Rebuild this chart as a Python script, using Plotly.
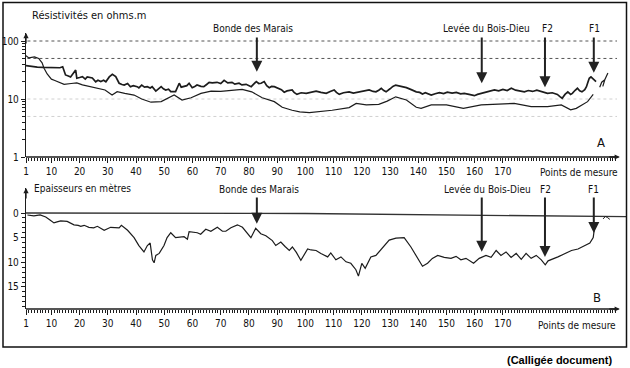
import numpy as np
import plotly.graph_objects as go

# ---------------- data ----------------
# Panel A : apparent resistivity (ohm.m) along the profile
res_low_pts = [1, 2, 4, 5.5, 6.7, 7.4, 8.5, 10, 11, 13, 14.5, 17, 19, 21, 24, 27, 29, 31.5, 33.3, 36,
               39.3, 42, 45.3, 48.9, 51, 53.5, 56.3, 59.5, 63, 66.6, 70, 74, 77.6, 81, 84.7, 89, 91.8,
               95.3, 98, 101.4, 104.9, 109.5, 115.5, 118, 121.6, 126, 129, 132, 135.8, 139.3, 141,
               144.6, 150, 156, 162.3, 168, 174, 180, 185.8, 190.7, 194, 196, 198, 200, 202]
res_low_vals = [56, 51, 53, 50, 42, 34, 27, 22, 21, 19, 17.9, 18.5, 19, 17.5, 16.3, 15, 14.3, 11.7, 13.4, 12.5,
                11.7, 10, 8.8, 9, 10.2, 11.7, 9.6, 10.5, 12.5, 13.7, 13.5, 14.3, 14.7, 13.3, 10.5, 9, 7.2,
                6.4, 6.0, 5.8, 6, 6.4, 7.1, 8.4, 7.9, 8.1, 9.2, 10.9, 9.6, 7.2, 6.9,
                7.9, 7.9, 6.9, 7.9, 8.1, 8.4, 7.4, 7.4, 7.9, 6.5, 6.9, 7.8, 9, 12]

res_high_pts = [1, 3, 5, 7, 9, 11, 13, 14, 15, 16, 16.8, 18.6, 19, 20, 21, 22, 22.7, 24.5, 25.7, 26.5,
                27.5, 28.5, 29.3, 30.5, 31.6, 32.8, 34, 35, 35.8, 37, 38, 39, 40.4, 41, 42, 43, 44, 45,
                45.7, 47, 48, 48.9, 49.7, 50.5, 51.5, 52.3, 54, 55.3, 56, 57, 58, 58.8, 59.9, 60.8, 61.6,
                63, 64, 65, 65.9, 67, 68.7, 70, 71.2, 72.5, 74, 75, 76.5, 77.5, 79, 80.8, 82.6, 83.5,
                84.3, 85.4, 86.3, 87.2, 88, 89, 90.7, 91.5, 92.5, 93.5, 95.3, 96, 97, 98.5, 100.3, 102,
                103.8, 105.5, 107.4, 108.8, 110.2, 111, 112, 113.5, 115.5, 117, 119, 120.5, 122.6, 124,
                125, 126, 126.9, 127.8, 128.6, 130, 131, 132, 133, 134, 135.8, 137.5, 139.3, 140.5,
                141.5, 142.5, 144.6, 146, 147.5, 149, 150.3, 152, 153.5, 155, 156.3, 158, 159.9, 161,
                162.3, 163.5, 165, 167, 168.5, 170, 171.5, 173, 174.5, 176, 177.6, 179, 180.5, 182,
                183.6, 185.8, 187.5, 189.3, 190.2, 191, 192, 193, 194, 194.6, 195.5, 196.4, 197.2, 198,
                199, 199.6, 200.2, 200.6, 201.2, 201.7, 203]
res_high_vals = [37.5, 36, 35.5, 35, 35, 34.5, 34.6, 36, 26, 25, 24, 31.5, 22.8, 23.5, 24.3, 22, 24, 23, 19.8, 21,
                 20, 21, 19.8, 24, 26.6, 24.3, 18.7, 17.8, 17.4, 18.5, 16.3, 17, 16.3, 15.5, 17.4, 16, 16.3, 15.5,
                 16.3, 13.7, 15, 16.3, 15, 14.3, 14.8, 13.4, 13.4, 18.7, 16, 16.3, 17, 18.7, 15.7, 16.5, 17.4,
                 16.5, 16.3, 17.8, 19.4, 19, 19.4, 18.5, 21, 19, 19.4, 18, 18.7, 17.5, 17.9, 16.3, 20, 18.5,
                 18.7, 20, 17, 15.7, 16.5, 16.3, 15.3, 14.5, 13.1, 13.8, 14.3, 13, 12, 12.8, 12.5, 13.2,
                 13.7, 13, 12.5, 13.5, 14.3, 13, 12, 12.8, 13.3, 12.6, 13.1, 13.8, 14.3, 13.5,
                 13.3, 14.2, 15.3, 14, 13.3, 15, 16.5, 17.4, 17, 16.3, 15.7, 14.5, 13.3, 13,
                 12.2, 12.8, 11.7, 12.3, 12.9, 12.4, 13.1, 12.6, 13, 12.3, 12.5, 12, 11.4, 12,
                 12.5, 13.2, 13.6, 14.3, 13.8, 14.6, 14, 15.3, 14.2, 13.8, 13.3, 14, 13.5, 14.2,
                 13.3, 12.5, 12.8, 12, 11, 10.3, 12, 13.3, 12, 12.5, 14, 15.3, 13.8, 13.3,
                 14.5, 16.3, 20, 22.8, 24, 22.8, 20]
res_tail_pts = [204.3, 205.0, 206.1, 205.4, 206.1, 207.2]
res_tail_vals = [16.0, 19.5, 21.5, 16.5, 21.5, 28.0]

# Panel B : thickness in metres
thick_pts = [1.5, 3.8, 6, 8, 9.5, 10.9, 12, 13.3, 15.6, 18, 19.5, 20.4, 21.6, 23.3, 25, 26.3, 28.7, 31, 34,
             34.8, 37, 39.3, 41, 42.8, 44, 45, 45.8, 46.4, 47, 48.2, 49.9, 51, 52.3, 54, 57, 58.2, 58.8,
             60.6, 61.7, 62.9, 64.7, 66.5, 68.8, 70.6, 71.8, 73.6, 75.9, 77.7, 79, 80.7, 82.4, 84.2, 86,
             88.3, 89.5, 91.3, 92.8, 94.3, 95.4, 96.8, 98.4, 100.8, 102, 103.8, 105.5, 107.9, 109, 110.8,
             112.6, 114.4, 116.1, 117.9, 118.8, 120, 121.2, 123.2, 125, 127.4, 129.7, 132.1, 135, 137.4,
             139, 140.4, 141.5, 143.3, 145, 146.9, 149.2, 151.6, 153.4, 155.1, 156.9, 159.6, 161.6, 164,
             165.8, 167.6, 169.3, 171.1, 172.9, 174.7, 176.5, 178.2, 180, 181.8, 183.6, 185, 186, 189.5,
             191.9, 194.3, 196.6, 199, 200.8, 202, 202.4]
thick_vals = [0.4, 0.6, 0.4, 0.8, 1.4, 2, 1.8, 1.6, 1.7, 2.4, 2.5, 2.7, 2.5, 2.9, 3, 2.7, 3.5, 2.9, 3,
              2.5, 3.5, 5, 6.6, 7.9, 6.6, 6.1, 9.5, 10.1, 8.6, 8.2, 6.6, 5, 4, 5, 4.8, 5.3, 3.8,
              4, 4, 4.3, 3.3, 3.7, 2.9, 3.7, 3.7, 3, 2.4, 2.9, 3.8, 5, 3.1, 4.2, 4.6,
              5.6, 6.6, 5.9, 6.8, 7.6, 6.9, 8, 9.6, 7.3, 7.5, 7.6, 8.2, 8.9, 8.1, 9.5,
              8.9, 9.9, 10.2, 11.5, 12.8, 10.2, 11.2, 8.9, 8.6, 6.9, 5.5, 5.1, 5, 6.9,
              8.4, 9.5, 10.8, 10.2, 9.2, 8.6, 9, 9.2, 8.8, 9.5, 9.2, 10.2, 9.2, 8.6,
              9, 7.6, 8.6, 7.9, 9, 8.2, 9.4, 8.2, 9.2, 8.6, 9.5, 10.5, 9.7, 8.9,
              8.2, 7.6, 7.3, 6.6, 6.1, 5, 3.3]
thick_tail_pts = [205.5, 206.3, 207.0, 207.9]
thick_tail_vals = [1.2, 0.7, 0.9, 1.3]
surface_pts = [1, 100, 214]
surface_vals = [0.0, 0.1, 0.75]

# reference levels (dotted lines) on panel A
grid_strong = [100, 50]
grid_faint = [10, 5]

# tick labels
x_tick_vals = [1, 10, 20, 30, 40, 50, 60, 70, 80, 90, 100, 110, 120, 130, 140, 150, 160, 170]
y_top_ticks = [1, 10, 100]
y_bot_ticks = [0, 5, 10, 15]

# landmarks
landmark_names = ["Bonde des Marais", "Levée du Bois-Dieu", "F2", "F1"]
landmark_pts = [82.8, 162.5, 184.9, 202.2]
landmark_top_tip = [29.6, 18.7, 15.9, 28.4]      # ohm.m where the arrow ends
landmark_bot_tip = [2.2, 7.85, 8.9, 4.05]       # metres where the arrow ends

# ---------------- geometry ----------------
W, H = 630, 368
FONT = "DejaVu Sans Condensed, Liberation Sans Narrow, DejaVu Sans, sans-serif"
INK = "#1c1c1c"

def fx(px):
    return px / W

def fy(py):
    return 1 - py / H

X_LEFT, X_RIGHT, X_ARROW = 26, 626, 617
PPU = 2.822
x_range = [1, 1 + (X_RIGHT - X_LEFT) / PPU]
x_end = 1 + (X_ARROW - X_LEFT) / PPU

TOP_BOT, TOP_TOP, DEC = 157, 33, 58.0
y_top_range = [0, (TOP_BOT - TOP_TOP) / DEC]

B_ZERO, B_AXIS, B_TOP, PPM = 213, 309, 188, 4.93
y_bot_range = [(B_AXIS - B_ZERO) / PPM, -(B_ZERO - B_TOP) / PPM]

fig = go.Figure()

# dotted reference levels
for lv in grid_strong:
    fig.add_trace(go.Scatter(x=[x_range[0] + 0.5, x_end], y=[lv, lv], mode="lines",
                             line=dict(color="#555555", width=1, dash="dot"),
                             xaxis="x", yaxis="y", hoverinfo="skip", showlegend=False))
for lv in grid_faint:
    fig.add_trace(go.Scatter(x=[x_range[0] + 0.5, x_end], y=[lv, lv], mode="lines",
                             line=dict(color="#d0d0d0", width=1, dash="dot"),
                             xaxis="x", yaxis="y", hoverinfo="skip", showlegend=False))

fig.add_trace(go.Scatter(x=res_low_pts, y=res_low_vals, mode="lines",
                         line=dict(color=INK, width=1.2), xaxis="x", yaxis="y", showlegend=False))
fig.add_trace(go.Scatter(x=res_high_pts, y=res_high_vals, mode="lines",
                         line=dict(color=INK, width=1.7), xaxis="x", yaxis="y", showlegend=False))
fig.add_trace(go.Scatter(x=res_tail_pts, y=res_tail_vals, mode="lines",
                         line=dict(color=INK, width=1.2), xaxis="x", yaxis="y", showlegend=False))

fig.add_trace(go.Scatter(x=surface_pts, y=surface_vals, mode="lines",
                         line=dict(color="#333333", width=1.3), xaxis="x2", yaxis="y2", showlegend=False))
fig.add_trace(go.Scatter(x=thick_pts, y=thick_vals, mode="lines",
                         line=dict(color=INK, width=1.2), xaxis="x2", yaxis="y2", showlegend=False))
fig.add_trace(go.Scatter(x=thick_tail_pts, y=thick_tail_vals, mode="lines",
                         line=dict(color=INK, width=1), xaxis="x2", yaxis="y2", showlegend=False))

tickfont = dict(family=FONT, size=10, color="#111111")

def xaxis_cfg(anchor):
    return dict(domain=[fx(X_LEFT), fx(X_RIGHT)], range=x_range, anchor=anchor, automargin=False,
                showline=False, showgrid=False, zeroline=False,
                tickmode="array", tickvals=x_tick_vals, ticktext=[str(v) for v in x_tick_vals],
                ticks="outside", ticklen=5, tickwidth=1, tickcolor=INK, tickfont=tickfont,
                minor=dict(tickmode="array", tickvals=list(range(1, int(x_end) + 1)),
                           ticks="outside", ticklen=3, tickwidth=0.8, tickcolor=INK, showgrid=False))

fig.update_layout(
    width=W, height=H, margin=dict(l=0, r=0, t=0, b=0, autoexpand=False),
    paper_bgcolor="white", plot_bgcolor="rgba(0,0,0,0)", showlegend=False,
    xaxis=xaxis_cfg("y"),
    xaxis2=xaxis_cfg("y2"),
    yaxis=dict(domain=[fy(TOP_BOT), fy(TOP_TOP)], type="log", range=y_top_range, anchor="x",
               automargin=False,
               showline=True, linecolor=INK, linewidth=1.3, showgrid=False, zeroline=False,
               tickmode="array", tickvals=y_top_ticks, ticktext=[str(v) for v in y_top_ticks],
               ticks="outside", ticklen=4, tickcolor=INK, tickfont=tickfont,
               minor=dict(tickmode="array",
                          tickvals=[2, 3, 4, 5, 6, 7, 8, 9, 20, 30, 40, 50, 60, 70, 80, 90],
                          ticks="outside", ticklen=3, tickcolor=INK, showgrid=False)),
    yaxis2=dict(domain=[fy(B_AXIS), fy(B_TOP)], range=y_bot_range, anchor="x2", automargin=False,
                showline=True, linecolor=INK, linewidth=1.3, showgrid=False, zeroline=False,
                tickmode="array", tickvals=y_bot_ticks, ticktext=[str(v) for v in y_bot_ticks],
                ticks="outside", ticklen=4, tickcolor=INK, tickfont=tickfont,
                minor=dict(tickmode="array", tickvals=list(range(0, 20)),
                           ticks="outside", ticklen=3, tickcolor=INK, showgrid=False)),
)

shapes = [
    # figure border
    dict(type="rect", xref="paper", yref="paper", x0=fx(3), x1=fx(626.5), y0=fy(347), y1=fy(2.5),
         line=dict(color="#111111", width=1.5)),
    # x axis lines
    dict(type="line", xref="x", yref="y domain", x0=x_range[0], x1=x_end, y0=0, y1=0,
         line=dict(color=INK, width=1.3)),
    dict(type="line", xref="x2", yref="y2 domain", x0=x_range[0], x1=x_end, y0=0, y1=0,
         line=dict(color=INK, width=1.3)),
]

ann = []
# axis arrowheads
for xr, yr in (("x", "y domain"), ("x2", "y2 domain")):
    ann.append(dict(x=x_end + 1, y=0, xref=xr, yref=yr, ax=-12, ay=0, text="", showarrow=True,
                    arrowhead=2, arrowsize=0.8, arrowwidth=1.3, arrowcolor=INK))
for xr, yr in (("x domain", "y domain"), ("x2 domain", "y2 domain")):
    ann.append(dict(x=0, y=1, xref=xr, yref=yr, ax=0, ay=12, text="", showarrow=True,
                    arrowhead=2, arrowsize=0.8, arrowwidth=1.3, arrowcolor=INK))

# landmark arrows
top_tail_px = 36
bot_tail_px = 196
for name, p, tv, bv in zip(landmark_names, landmark_pts, landmark_top_tip, landmark_bot_tip):
    tip_top_px = TOP_BOT - DEC * np.log10(tv)
    ann.append(dict(x=p, y=float(np.log10(tv)), xref="x", yref="y", ax=0, ay=-(tip_top_px - top_tail_px),
                    text="", showarrow=True, arrowhead=2, arrowsize=1.1, arrowwidth=2, arrowcolor="#222222"))
    tip_bot_px = B_ZERO + PPM * bv
    ann.append(dict(x=p, y=bv, xref="x2", yref="y2", ax=0, ay=-(tip_bot_px - bot_tail_px),
                    text="", showarrow=True, arrowhead=2, arrowsize=1.1, arrowwidth=2, arrowcolor="#222222"))

lab_font = dict(family=FONT, size=10, color="#111111")
# landmark labels (centred above the arrows)
label_top_x = [253, 486, 547, 594]
label_bot_x = [259, 487, 545, 593]
for name, xt, xb in zip(landmark_names, label_top_x, label_bot_x):
    ann.append(dict(x=fx(xt), y=fy(29), xref="paper", yref="paper", text=name, showarrow=False,
                    xanchor="center", yanchor="middle", font=lab_font))
    ann.append(dict(x=fx(xb), y=fy(189), xref="paper", yref="paper", text=name, showarrow=False,
                    xanchor="center", yanchor="middle", font=lab_font))

ann += [
    dict(x=fx(30), y=fy(16), xref="paper", yref="paper", text="Résistivités en ohms.m",
         showarrow=False, xanchor="left", yanchor="middle",
         font=dict(family=FONT, size=11, color="#111111")),
    dict(x=fx(32), y=fy(188), xref="paper", yref="paper", text="Epaisseurs en mètres",
         showarrow=False, xanchor="left", yanchor="middle", font=lab_font),
    dict(x=fx(579), y=fy(172), xref="paper", yref="paper", text="Points de mesure",
         showarrow=False, xanchor="center", yanchor="middle", font=lab_font),
    dict(x=fx(577), y=fy(325), xref="paper", yref="paper", text="Points de mesure",
         showarrow=False, xanchor="center", yanchor="middle", font=lab_font),
    dict(x=fx(601), y=fy(142), xref="paper", yref="paper", text="A",
         showarrow=False, xanchor="center", yanchor="middle",
         font=dict(family=FONT, size=13, color="#111111")),
    dict(x=fx(597), y=fy(297), xref="paper", yref="paper", text="B",
         showarrow=False, xanchor="center", yanchor="middle",
         font=dict(family=FONT, size=13, color="#111111")),
    dict(x=fx(614), y=fy(360), xref="paper", yref="paper", text="<b>(Calligée document)</b>",
         showarrow=False, xanchor="right", yanchor="middle",
         font=dict(family="Liberation Sans, Arial, sans-serif", size=11, color="#000000")),
]

fig.update_layout(shapes=shapes, annotations=ann)
fig.write_html("out.html", config={"displayModeBar": False},
               post_script="document.body.style.margin='0';document.body.style.padding='0';")
